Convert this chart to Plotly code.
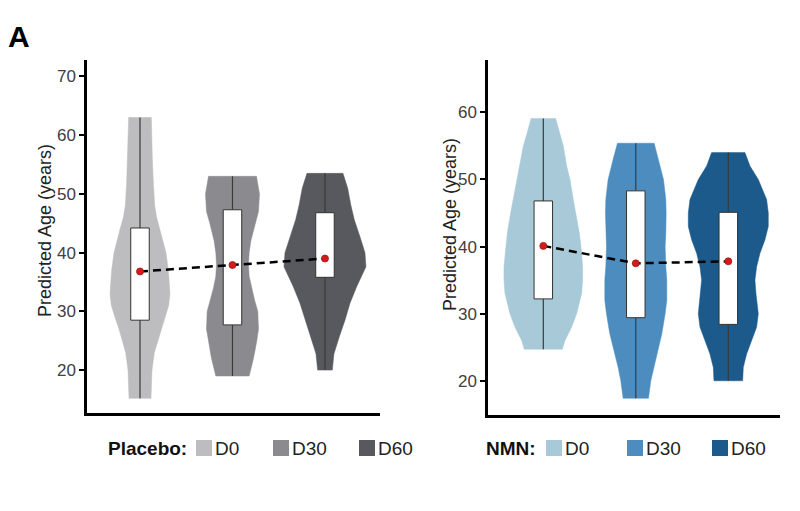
import plotly.graph_objects as go

groups = ["D0", "D30", "D60"]
group_pos = [1, 2, 3]

# ---------------- Placebo ----------------
placebo_colors = ["#bdbdbf", "#8b8b8f", "#58595e"]
# violin density profiles: age levels and relative half-width (density)
placebo_d0_age = [63, 60, 56, 52, 48, 46, 44, 42, 40, 37, 35, 33, 31, 29, 27, 25, 23, 20, 17, 15.2]
placebo_d0_dens = [34, 35, 37, 40, 44, 50, 60, 70, 78, 85, 88, 90, 86, 75, 63, 52, 43, 36, 34, 33]
placebo_d30_age = [53, 50, 47, 45, 42, 40, 38, 36, 34, 32, 30, 27, 25, 22, 19]
placebo_d30_dens = [72, 81, 78, 68, 55, 50, 48, 50, 57, 66, 76, 78, 73, 63, 50]
placebo_d60_age = [53.5, 51, 48, 45.6, 42.7, 40, 37.6, 34.2, 31.4, 28.5, 25.7, 22.8, 20]
placebo_d60_dens = [54, 68, 78, 88, 105, 120, 123, 95, 75, 60, 43, 27, 22]
placebo_q1 = [28.5, 27.7, 35.8]
placebo_q3 = [44.2, 47.3, 46.8]
placebo_mean = [36.8, 37.9, 39.0]
placebo_min = [15.2, 19.0, 20.0]
placebo_max = [63.0, 53.0, 53.5]

# ---------------- NMN ----------------
nmn_colors = ["#a8c9d8", "#4c8cbe", "#1b5a8b"]
nmn_d0_age = [59.1, 57, 55, 52, 50, 47, 45, 42, 40, 37, 35, 33, 30, 28, 26, 24.7]
nmn_d0_dens = [37, 48, 60, 70, 80, 90, 98, 108, 113, 118, 118, 115, 100, 85, 65, 57]
nmn_d30_age = [55.4, 53, 50, 47, 45, 42, 40, 37, 35, 32, 30, 27, 25, 22, 20, 17.4]
nmn_d30_dens = [55, 68, 83, 90, 91, 90, 88, 90, 93, 93, 88, 78, 68, 53, 45, 38]
nmn_d60_age = [54, 52, 50, 47, 45, 43, 41, 39, 37, 35, 33, 30, 28, 26, 24, 22, 20]
nmn_d60_dens = [50, 65, 90, 115, 120, 120, 110, 95, 85, 80, 83, 90, 85, 70, 55, 45, 43]
nmn_q1 = [32.2, 29.4, 28.4]
nmn_q3 = [46.8, 48.3, 45.1]
nmn_mean = [40.1, 37.5, 37.8]
nmn_min = [24.7, 17.4, 20.0]
nmn_max = [59.1, 55.4, 54.0]

DENS_SCALE = 1 / 277.5   # relative density -> category-axis half-width
BOX_HALF = 0.1
FONT = "Liberation Sans, Arial, sans-serif"

# figure is placed inside the page body (8px default margin)
W, H, OFF = 784, 495, 8


def PX(x):
    return (x - OFF) / W


def PY(y):
    return 1 - (y - OFF) / H


fig = go.Figure()


def add_panel(xa, ya, ages, dens, colors, q1, q3, mean, vmin, vmax):
    for pos, a, d, c, g in zip(group_pos, ages, dens, colors, groups):
        xs = [pos + w * DENS_SCALE for w in d] + [pos - w * DENS_SCALE for w in reversed(d)]
        ys = list(a) + list(reversed(a))
        fig.add_trace(go.Scatter(x=xs + [xs[0]], y=ys + [ys[0]], mode="lines", fill="toself", name=g,
                                 fillcolor=c, line=dict(color=c, width=0.5),
                                 xaxis=xa, yaxis=ya, showlegend=False, hoverinfo="skip"))
    wx, wy = [], []
    for pos, lo, hi in zip(group_pos, vmin, vmax):
        wx += [pos, pos, None]
        wy += [lo, hi, None]
    fig.add_trace(go.Scatter(x=wx, y=wy, mode="lines", line=dict(color="#3a3a3a", width=1.2),
                             xaxis=xa, yaxis=ya, showlegend=False, hoverinfo="skip"))
    for pos, lo, hi in zip(group_pos, q1, q3):
        fig.add_trace(go.Scatter(x=[pos - BOX_HALF, pos + BOX_HALF, pos + BOX_HALF, pos - BOX_HALF, pos - BOX_HALF],
                                 y=[lo, lo, hi, hi, lo], mode="lines", fill="toself", fillcolor="white",
                                 line=dict(color="#333333", width=1), xaxis=xa, yaxis=ya,
                                 showlegend=False, hoverinfo="skip"))
    fig.add_trace(go.Scatter(x=group_pos, y=mean, mode="lines",
                             line=dict(color="black", width=2.5, dash="8px,5px"),
                             xaxis=xa, yaxis=ya, showlegend=False, hoverinfo="skip"))
    fig.add_trace(go.Scatter(x=group_pos, y=mean, mode="markers",
                             marker=dict(color="#d7191c", size=7, line=dict(color="#9e1b1b", width=0.8)),
                             xaxis=xa, yaxis=ya, showlegend=False))


add_panel("x", "y",
          [placebo_d0_age, placebo_d30_age, placebo_d60_age],
          [placebo_d0_dens, placebo_d30_dens, placebo_d60_dens],
          placebo_colors, placebo_q1, placebo_q3, placebo_mean, placebo_min, placebo_max)
add_panel("x2", "y2",
          [nmn_d0_age, nmn_d30_age, nmn_d60_age],
          [nmn_d0_dens, nmn_d30_dens, nmn_d60_dens],
          nmn_colors, nmn_q1, nmn_q3, nmn_mean, nmn_min, nmn_max)

xcommon = dict(showline=True, linecolor="black", linewidth=2.5, showticklabels=False, ticks="",
               showgrid=False, zeroline=False, fixedrange=True)
ycommon = dict(showline=True, linecolor="black", linewidth=2.5, ticks="outside", ticklen=5, tickwidth=1.5,
               tickcolor="black", showgrid=False, zeroline=False,
               tickfont=dict(family=FONT, size=17, color="#404040"))

annotations = [
    dict(text="<b>A</b>", x=PX(19), y=PY(36), xref="paper", yref="paper", showarrow=False,
         xanchor="center", yanchor="middle", font=dict(family=FONT, size=30, color="black")),
    dict(text="Predicted Age (years)", x=PX(45), y=PY(231), xref="paper", yref="paper",
         xanchor="center", yanchor="middle",
         showarrow=False, textangle=-90, font=dict(family=FONT, size=18, color="#222")),
    dict(text="Predicted Age (years)", x=PX(450), y=PY(225), xref="paper", yref="paper",
         xanchor="center", yanchor="middle",
         showarrow=False, textangle=-90, font=dict(family=FONT, size=18, color="#222")),
]
shapes = []

# manual legends (title, swatches, labels)
LEG_Y = 448
legend_specs = [
    ("Placebo:", 108, [196, 273, 359], placebo_colors),
    ("NMN:", 486, [546, 627, 712], nmn_colors),
]
for title, tx, sq_left, cols in legend_specs:
    annotations.append(dict(text="<b>" + title + "</b>", x=PX(tx - 2), y=PY(LEG_Y), xref="paper", yref="paper",
                            xanchor="left", yanchor="middle", showarrow=False,
                            font=dict(family=FONT, size=19, color="#111")))
    for g, sx, c in zip(groups, sq_left, cols):
        shapes.append(dict(type="rect", xref="paper", yref="paper", x0=PX(sx), x1=PX(sx + 16),
                           y0=PY(LEG_Y + 8), y1=PY(LEG_Y - 8), fillcolor=c, line=dict(width=0)))
        annotations.append(dict(text=g, x=PX(sx + 17), y=PY(LEG_Y), xref="paper", yref="paper",
                                xanchor="left", yanchor="middle", showarrow=False,
                                font=dict(family=FONT, size=19, color="#222")))

fig.update_layout(
    width=W, height=H,
    margin=dict(l=0, r=0, t=0, b=0),
    paper_bgcolor="white", plot_bgcolor="white",
    font=dict(family=FONT),
    xaxis=dict(domain=[PX(87), PX(380)], range=[0.427, 3.595], anchor="y", **xcommon),
    yaxis=dict(domain=[PY(413), PY(60)], range=[12.7, 72.8], tickvals=[20, 30, 40, 50, 60, 70],
               anchor="x", **ycommon),
    xaxis2=dict(domain=[PX(488), PX(780)], range=[0.402, 3.559], anchor="y2", **xcommon),
    yaxis2=dict(domain=[PY(415), PY(60)], range=[14.9, 67.8], tickvals=[20, 30, 40, 50, 60],
                anchor="x2", **ycommon),
    annotations=annotations,
    shapes=shapes,
    showlegend=False,
)

fig.write_html("out.html")
